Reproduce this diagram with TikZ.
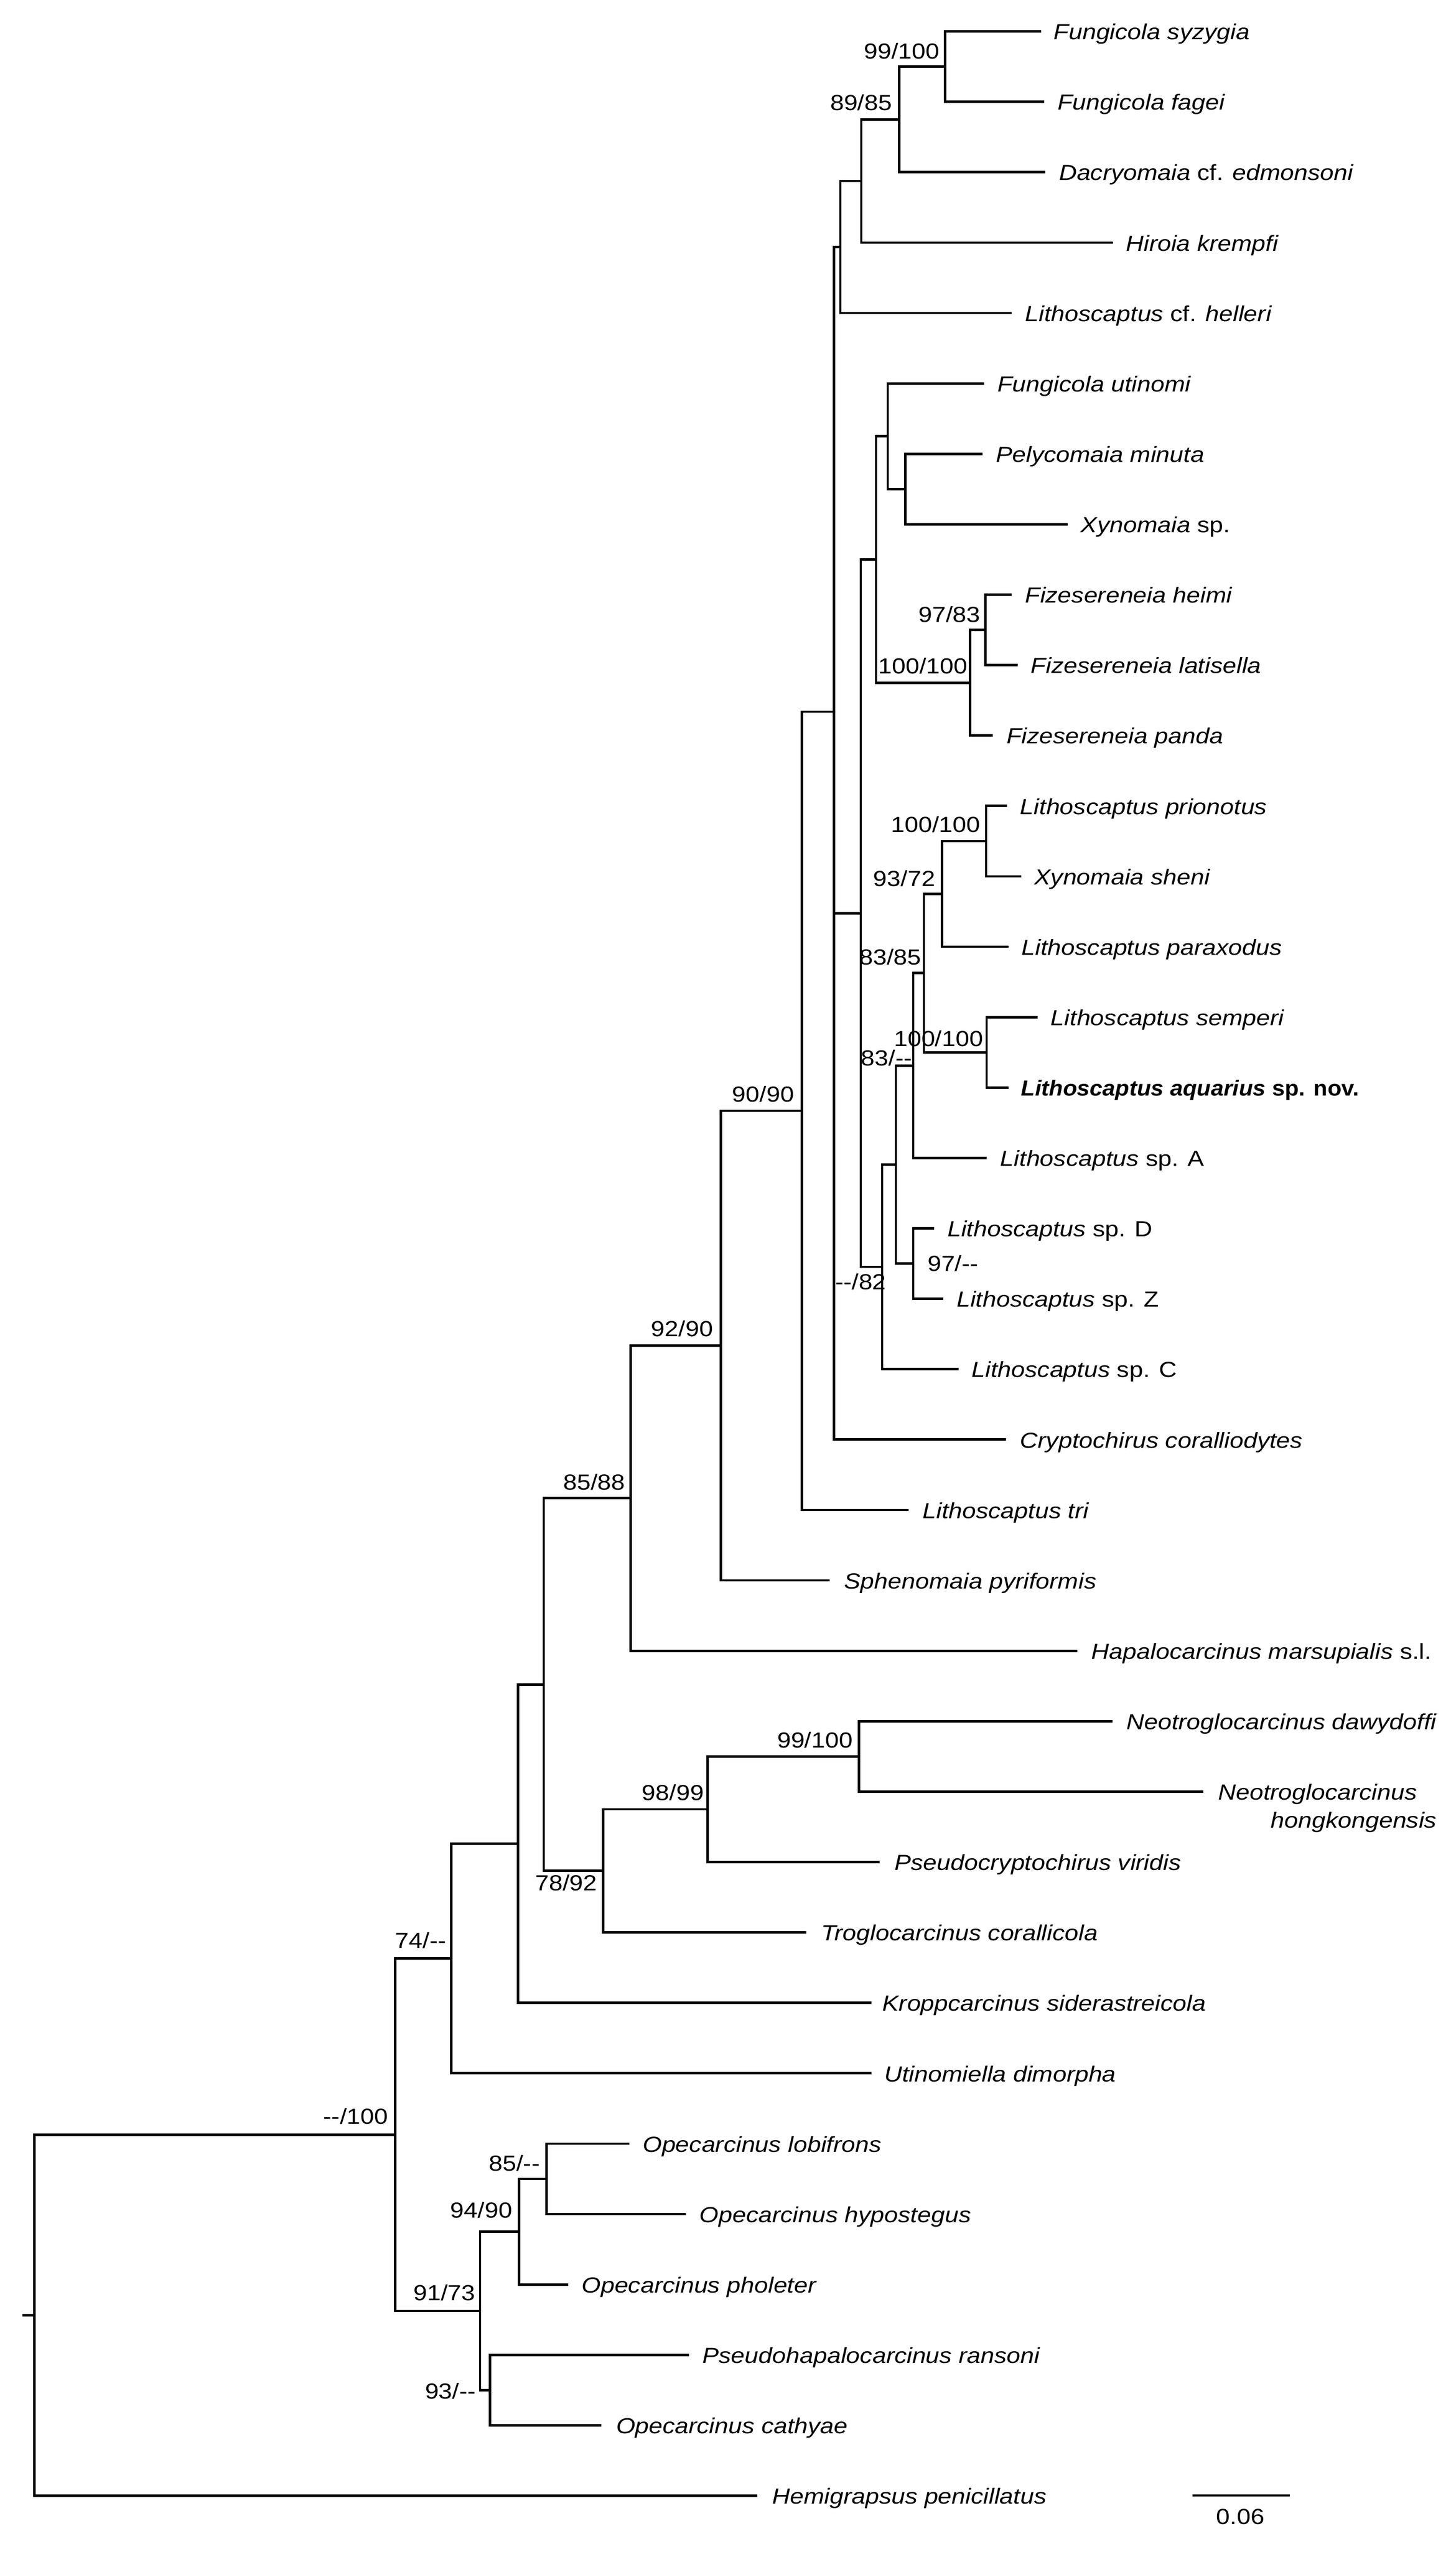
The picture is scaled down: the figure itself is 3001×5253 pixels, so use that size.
\documentclass[tikz,border=0pt]{standalone}
\usepackage{fontspec}
\setmainfont{Liberation Sans}[FakeStretch=1.13]
\newfontfamily\aqfont{Liberation Sans}[FakeStretch=1.05]
\begin{document}
\begin{tikzpicture}[x=1pt,y=-1pt,
  br/.style={line width=5pt},
  taxon/.style={anchor=base west, inner sep=0pt, font=\fontsize{45}{54}\selectfont},
  boot/.style={anchor=base east, inner sep=0pt, font=\fontsize{45}{54}\selectfont},
  bootw/.style={anchor=base west, inner sep=0pt, font=\fontsize{45}{54}\selectfont}]
\useasboundingbox (0,0) rectangle (3001,5253);
% internal nodes
\coordinate (R0) at (46,4771.2);
\coordinate (R) at (71,4771.2);
\coordinate (A) at (815,4399.2);
\coordinate (B) at (930,4036.0);
\coordinate (C) at (989.6,4762.4);
\coordinate (D) at (1067.6,3799.5);
\coordinate (E) at (1121,3471.5);
\coordinate (F) at (1300,3087.5);
\coordinate (G) at (1243,3855.5);
\coordinate (H) at (1486,2773.1);
\coordinate (I) at (1653,2289.2);
\coordinate (J) at (1719,1466.7);
\coordinate (Y) at (1719,2424.3);
\coordinate (K) at (1732.5,509.0);
\coordinate (M) at (1775.5,373.0);
\coordinate (N) at (1854,246.1);
\coordinate (O) at (1948,137.25);
\coordinate (L) at (1774.5,1881.9);
\coordinate (P) at (1806,1153.0);
\coordinate (S) at (1830,899.0);
\coordinate (U) at (1866,1007.9);
\coordinate (T) at (2000,1406.9);
\coordinate (V) at (2031,1298.0);
\coordinate (Q) at (1818.5,2610.8);
\coordinate (W) at (1847,2400.0);
\coordinate (Xn) at (1882.6,2195.9);
\coordinate (Z) at (1882.6,2604.0);
\coordinate (AA) at (1904.6,2005.4);
\coordinate (AB) at (1942,1842.2);
\coordinate (AD) at (2033,1733.4);
\coordinate (AC) at (2034,2168.6);
\coordinate (AE) at (1459,3728.5);
\coordinate (AF) at (1770.4,3619.7);
\coordinate (AG) at (1070,4599.1);
\coordinate (AH) at (1010,4925.6);
\coordinate (AI) at (1127,4490.3);
% tip ends
\coordinate (e0) at (2146,64.7);
\coordinate (e1) at (2153,209.8);
\coordinate (e2) at (2155,354.9);
\coordinate (e3) at (2294,500.0);
\coordinate (e4) at (2085,645.1);
\coordinate (e5) at (2029,790.2);
\coordinate (e6) at (2026,935.3);
\coordinate (e7) at (2201,1080.4);
\coordinate (e8) at (2085,1225.5);
\coordinate (e9) at (2098,1370.6);
\coordinate (e10) at (2047,1515.7);
\coordinate (e11) at (2076,1660.8);
\coordinate (e12) at (2105.5,1805.9);
\coordinate (e13) at (2079,1951.0);
\coordinate (e14) at (2139,2096.1);
\coordinate (e15) at (2079,2241.2);
\coordinate (e16) at (2034,2386.3);
\coordinate (e17) at (1925.7,2531.4);
\coordinate (e18) at (1945,2676.5);
\coordinate (e19) at (1976,2821.6);
\coordinate (e20) at (2074,2966.7);
\coordinate (e21) at (1873.7,3111.8);
\coordinate (e22) at (1710.5,3256.9);
\coordinate (e23) at (2220.6,3402.0);
\coordinate (e24) at (2293,3547.1);
\coordinate (e25) at (2480,3692.2);
\coordinate (e26) at (1813.8,3837.3);
\coordinate (e27) at (1662,3982.4);
\coordinate (e28) at (1797,4127.5);
\coordinate (e29) at (1797,4272.6);
\coordinate (e30) at (1297,4417.7);
\coordinate (e31) at (1414,4562.8);
\coordinate (e32) at (1171,4707.9);
\coordinate (e33) at (1420,4853.0);
\coordinate (e34) at (1240,4998.1);
\coordinate (e35) at (1561,5143.2);
% branches
\draw[br] (R0) -- (R);
\draw[br] (R) |- (A); \draw[br] (R) |- (e35);
\draw[br] (A) |- (B); \draw[br] (A) |- (C);
\draw[br] (B) |- (D); \draw[br] (B) |- (e29);
\draw[br] (D) |- (E); \draw[br] (D) |- (e28);
\draw[br] (E) |- (F); \draw[br] (E) |- (G);
\draw[br] (F) |- (H); \draw[br] (F) |- (e23);
\draw[br] (H) |- (I); \draw[br] (H) |- (e22);
\draw[br] (I) |- (J); \draw[br] (I) |- (e21);
\draw[br] (J) |- (K); \draw[br] (J) |- (Y);
\draw[br] (Y) |- (L); \draw[br] (Y) |- (e20);
\draw[br] (K) |- (M); \draw[br] (K) |- (e4);
\draw[br] (M) |- (N); \draw[br] (M) |- (e3);
\draw[br] (N) |- (O); \draw[br] (N) |- (e2);
\draw[br] (O) |- (e0); \draw[br] (O) |- (e1);
\draw[br] (L) |- (P); \draw[br] (L) |- (Q);
\draw[br] (P) |- (S); \draw[br] (P) |- (T);
\draw[br] (S) |- (e5); \draw[br] (S) |- (U);
\draw[br] (U) |- (e6); \draw[br] (U) |- (e7);
\draw[br] (T) |- (V); \draw[br] (T) |- (e10);
\draw[br] (V) |- (e8); \draw[br] (V) |- (e9);
\draw[br] (Q) |- (W); \draw[br] (Q) |- (e19);
\draw[br] (W) |- (Xn); \draw[br] (W) |- (Z);
\draw[br] (Xn) |- (AA); \draw[br] (Xn) |- (e16);
\draw[br] (AA) |- (AB); \draw[br] (AA) |- (AC);
\draw[br] (AB) |- (AD); \draw[br] (AB) |- (e13);
\draw[br] (AD) |- (e11); \draw[br] (AD) |- (e12);
\draw[br] (AC) |- (e14); \draw[br] (AC) |- (e15);
\draw[br] (Z) |- (e17); \draw[br] (Z) |- (e18);
\draw[br] (G) |- (AE); \draw[br] (G) |- (e27);
\draw[br] (AE) |- (AF); \draw[br] (AE) |- (e26);
\draw[br] (AF) |- (e24); \draw[br] (AF) |- (e25);
\draw[br] (C) |- (AG); \draw[br] (C) |- (AH);
\draw[br] (AG) |- (AI); \draw[br] (AG) |- (e32);
\draw[br] (AI) |- (e30); \draw[br] (AI) |- (e31);
\draw[br] (AH) |- (e33); \draw[br] (AH) |- (e34);
% taxon labels
\node[taxon] (t0) at (2172,81.7) {\textit{Fungicola syzygia}};
\node[taxon] (t1) at (2180,226.8) {\textit{Fungicola fagei}};
\node[taxon] (t2) at (2183,371.9) {\textit{Dacryomaia} cf. \textit{edmonsoni}};
\node[taxon] (t3) at (2321,517.0) {\textit{Hiroia krempfi}};
\node[taxon] (t4) at (2113,662.1) {\textit{Lithoscaptus} cf. \textit{helleri}};
\node[taxon] (t5) at (2056,807.2) {\textit{Fungicola utinomi}};
\node[taxon] (t6) at (2053,952.3) {\textit{Pelycomaia minuta}};
\node[taxon] (t7) at (2228,1097.4) {\textit{Xynomaia} sp.};
\node[taxon] (t8) at (2113,1242.5) {\textit{Fizesereneia heimi}};
\node[taxon] (t9) at (2125,1387.6) {\textit{Fizesereneia latisella}};
\node[taxon] (t10) at (2075,1532.7) {\textit{Fizesereneia panda}};
\node[taxon] (t11) at (2103,1677.8) {\textit{Lithoscaptus prionotus}};
\node[taxon] (t12) at (2132,1822.9) {\textit{Xynomaia sheni}};
\node[taxon] (t13) at (2106,1968.0) {\textit{Lithoscaptus paraxodus}};
\node[taxon] (t14) at (2166,2113.1) {\textit{Lithoscaptus semperi}};
\node[taxon, font=\fontsize{45}{54}\selectfont\aqfont\bfseries] (t15) at (2105,2258.2) {\textit{Lithoscaptus aquarius} sp. nov.};
\node[taxon] (t16) at (2062,2403.3) {\textit{Lithoscaptus} sp. A};
\node[taxon] (t17) at (1953,2548.4) {\textit{Lithoscaptus} sp. D};
\node[taxon] (t18) at (1972,2693.5) {\textit{Lithoscaptus} sp. Z};
\node[taxon] (t19) at (2003,2838.6) {\textit{Lithoscaptus} sp. C};
\node[taxon] (t20) at (2103,2983.7) {\textit{Cryptochirus coralliodytes}};
\node[taxon] (t21) at (1902,3128.8) {\textit{Lithoscaptus tri}};
\node[taxon] (t22) at (1740,3273.9) {\textit{Sphenomaia pyriformis}};
\node[taxon] (t23) at (2250,3419.0) {\textit{Hapalocarcinus marsupialis} s.l.};
\node[taxon] (t24) at (2322,3564.1) {\textit{Neotroglocarcinus dawydoffi}};
\node[taxon] (t25) at (2511,3709.2) {\textit{Neotroglocarcinus}};
\node[taxon, anchor=base east] (t25b) at (2962,3767) {\textit{hongkongensis}};
\node[taxon] (t26) at (1844,3854.3) {\textit{Pseudocryptochirus viridis}};
\node[taxon] (t27) at (1693,3999.4) {\textit{Troglocarcinus corallicola}};
\node[taxon] (t28) at (1819,4144.5) {\textit{Kroppcarcinus siderastreicola}};
\node[taxon] (t29) at (1823,4289.6) {\textit{Utinomiella dimorpha}};
\node[taxon] (t30) at (1325,4434.7) {\textit{Opecarcinus lobifrons}};
\node[taxon] (t31) at (1442,4579.8) {\textit{Opecarcinus hypostegus}};
\node[taxon] (t32) at (1199,4724.9) {\textit{Opecarcinus pholeter}};
\node[taxon] (t33) at (1448,4870.0) {\textit{Pseudohapalocarcinus ransoni}};
\node[taxon] (t34) at (1270,5015.1) {\textit{Opecarcinus cathyae}};
\node[taxon] (t35) at (1592,5160.2) {\textit{Hemigrapsus penicillatus}};
% support values
\node[boot] (bO) at (1937,121) {99/100};
\node[boot] (bN) at (1839,227) {89/85};
\node[boot] (bV) at (2021,1282) {97/83};
\node[boot] (bT) at (1995,1388) {100/100};
\node[boot] (bAD) at (2021,1715) {100/100};
\node[boot] (bAB) at (1928,1826) {93/72};
\node[boot] (bAA) at (1899,1988) {83/85};
\node[boot] (bAC) at (2027,2156) {100/100};
\node[boot] (bXn) at (1880,2196) {83/-{}-};
\node[boot] (bI) at (1637,2271) {90/90};
\node[boot] (bQ) at (1827,2657) {-{}-/82};
\node[bootw] (bZ) at (1912,2620) {97/-{}-};
\node[boot] (bH) at (1470,2754) {92/90};
\node[boot] (bF) at (1289,3070) {85/88};
\node[boot] (bAF) at (1758,3602) {99/100};
\node[boot] (bAE) at (1451,3710) {98/99};
\node[boot] (bG) at (1231,3896) {78/92};
\node[boot] (bB) at (920,4015) {74/-{}-};
\node[boot] (bA) at (800,4377) {-{}-/100};
\node[boot] (bAI) at (1113,4474) {85/-{}-};
\node[boot] (bAG) at (1056,4571) {94/90};
\node[boot] (bC) at (980,4741) {91/73};
\node[boot] (bAH) at (981,4944) {93/-{}-};
% scale bar
\coordinate (sb1) at (2458,5142.7);
\coordinate (sb2) at (2659,5142.7);
\draw[br] (sb1) -- (sb2);
\node[boot, anchor=base] (sbl) at (2557,5201.7) {0.06};
\end{tikzpicture}
\end{document}
